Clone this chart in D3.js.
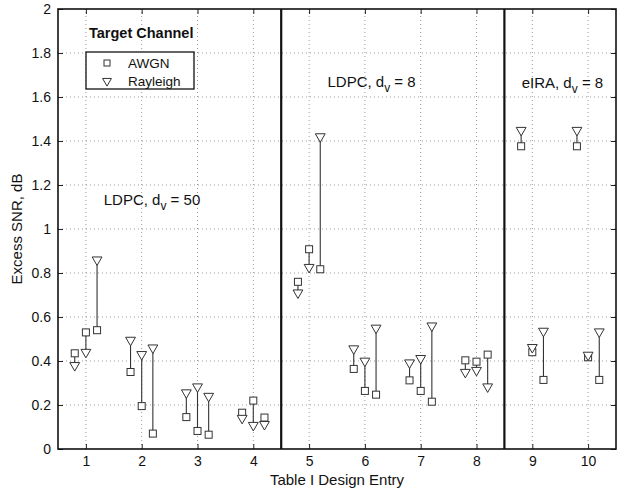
<!DOCTYPE html>
<html>
<head>
<meta charset="utf-8">
<script src="https://cdn.jsdelivr.net/npm/d3@7"></script>
<style>
  body { margin: 0; background: #fff; }
  text { font-family: "Liberation Sans", Arial, sans-serif; }
</style>
</head>
<body>
<div id="chart"></div>
<script>
"use strict";

// design entries on the x axis
var entries = [1, 2, 3, 4, 5, 6, 7, 8, 9, 10];
// x location of every measured pair (three variants per entry)
var pairX = [0.8, 1, 1.2, 1.8, 2, 2.2, 2.8, 3, 3.2, 3.8, 4, 4.2, 4.8, 5, 5.2,
             5.8, 6, 6.2, 6.8, 7, 7.2, 7.8, 8, 8.2, 8.8, 9, 9.2, 9.8, 10, 10.2];
var awgn = [0.435, 0.53, 0.54, 0.35, 0.195, 0.07, 0.145, 0.082, 0.065, 0.165, 0.22, 0.143,
            0.76, 0.908, 0.817, 0.364, 0.264, 0.247, 0.312, 0.264, 0.215, 0.403, 0.397, 0.429,
            1.376, 0.44, 0.314, 1.376, 0.417, 0.314];
var rayleigh = [0.38, 0.44, 0.86, 0.495, 0.43, 0.46, 0.256, 0.283, 0.24, 0.14, 0.108, 0.112,
                0.71, 0.826, 1.42, 0.456, 0.40, 0.55, 0.392, 0.412, 0.56, 0.349, 0.358, 0.283,
                1.449, 0.462, 0.536, 1.449, 0.427, 0.533];
var yTicks = [0, 0.2, 0.4, 0.6, 0.8, 1, 1.2, 1.4, 1.6, 1.8, 2];
var dividers = [4.5, 8.5];
var annotations = [
  {x: 1.32, y: 1.11, name: "LDPC, d", sub: "v", rest: " = 50"},
  {x: 5.33, y: 1.645, name: "LDPC, d", sub: "v", rest: " = 8"},
  {x: 8.81, y: 1.64, name: "eIRA, d", sub: "v", rest: " = 8"}
];

var width = 632, height = 490;
var margin = {top: 9, right: 16, bottom: 41, left: 58};

var x = d3.scaleLinear().domain([0.5, 10.5]).range([margin.left, width - margin.right]);
var y = d3.scaleLinear().domain([0, 2]).range([height - margin.bottom, margin.top]);

var svg = d3.select("#chart").append("svg")
  .attr("width", width)
  .attr("height", height);

// dotted grid
var grid = svg.append("g").attr("stroke", "#999").attr("stroke-dasharray", "1,3").attr("stroke-width", 1);
grid.selectAll("line.gx").data(entries).enter().append("line")
  .attr("x1", d => x(d)).attr("x2", d => x(d))
  .attr("y1", y(0)).attr("y2", y(2));
grid.selectAll("line.gy").data(yTicks.slice(1, -1)).enter().append("line")
  .attr("x1", x(0.5)).attr("x2", x(10.5))
  .attr("y1", d => y(d)).attr("y2", d => y(d));

// axes
var xAxis = d3.axisBottom(x).tickValues(entries).tickSizeInner(-5).tickSizeOuter(0).tickPadding(7);
var yAxis = d3.axisLeft(y).tickValues(yTicks).tickFormat(d3.format("")).tickSizeInner(-5).tickSizeOuter(0).tickPadding(7);

svg.append("g").attr("transform", "translate(0," + y(0) + ")").call(xAxis);
svg.append("g").attr("transform", "translate(" + x(0.5) + ",0)").call(yAxis);
svg.append("g").attr("transform", "translate(0," + y(2) + ")")
  .call(d3.axisTop(x).tickValues(entries).tickSizeInner(-5).tickSizeOuter(0).tickFormat(""));
svg.append("g").attr("transform", "translate(" + x(10.5) + ",0)")
  .call(d3.axisRight(y).tickValues(yTicks).tickSizeInner(-5).tickSizeOuter(0).tickFormat(""));

svg.selectAll(".domain").remove();
svg.selectAll(".tick line").attr("stroke", "#222");
svg.selectAll(".tick text").attr("fill", "#111").style("font-size", "14px");

svg.append("rect")
  .attr("x", x(0.5)).attr("y", y(2))
  .attr("width", x(10.5) - x(0.5)).attr("height", y(0) - y(2))
  .attr("fill", "none").attr("stroke", "#111").attr("stroke-width", 1.6);

svg.selectAll("line.divider").data(dividers).enter().append("line")
  .attr("x1", d => x(d)).attr("x2", d => x(d))
  .attr("y1", y(0)).attr("y2", y(2))
  .attr("stroke", "#111").attr("stroke-width", 2.2);

// axis titles
svg.append("text")
  .attr("x", (x(0.5) + x(10.5)) / 2).attr("y", 485)
  .attr("text-anchor", "middle").style("font-size", "15px").attr("fill", "#111")
  .text("Table I Design Entry");
svg.append("text")
  .attr("transform", "translate(22," + (y(0) + y(2)) / 2 + ") rotate(-90)")
  .attr("text-anchor", "middle").style("font-size", "15px").attr("fill", "#111")
  .text("Excess SNR, dB");

// pairs
var pairs = pairX.map((d, i) => ({x: d, a: awgn[i], r: rayleigh[i]}));
var marks = svg.append("g");
marks.selectAll("line").data(pairs).enter().append("line")
  .attr("x1", d => x(d.x)).attr("x2", d => x(d.x))
  .attr("y1", d => y(d.a)).attr("y2", d => y(d.r))
  .attr("stroke", "#333").attr("stroke-width", 1.1);

var sq = 7;
marks.selectAll("rect").data(pairs).enter().append("rect")
  .attr("x", d => x(d.x) - sq / 2).attr("y", d => y(d.a) - sq / 2)
  .attr("width", sq).attr("height", sq)
  .attr("fill", "#fff").attr("stroke", "#333").attr("stroke-width", 1);

var tri = d3.symbol().type(d3.symbolTriangle).size(42);
marks.selectAll("path").data(pairs).enter().append("path")
  .attr("d", tri)
  .attr("transform", d => "translate(" + x(d.x) + "," + y(d.r) + ") rotate(180)")
  .attr("fill", "#fff").attr("stroke", "#333").attr("stroke-width", 1);

// region labels
annotations.forEach(function(a) {
  var t = svg.append("text")
    .attr("x", x(a.x)).attr("y", y(a.y))
    .style("font-size", "15px").attr("fill", "#111");
  t.append("tspan").text(a.name);
  t.append("tspan").attr("dy", 5).style("font-size", "12px").text(a.sub);
  t.append("tspan").attr("dy", -5).text(a.rest);
});

// legend
var legend = svg.append("g");
legend.append("text")
  .attr("x", 89).attr("y", 38)
  .style("font-size", "14.5px").style("font-weight", "bold").attr("fill", "#111")
  .text("Target Channel");
legend.append("rect")
  .attr("x", 86).attr("y", 52).attr("width", 108).attr("height", 37)
  .attr("fill", "#fff").attr("stroke", "#111").attr("stroke-width", 1.3);
legend.append("rect")
  .attr("x", 107 - 3).attr("y", 63 - 3).attr("width", 6).attr("height", 6)
  .attr("fill", "#fff").attr("stroke", "#333");
legend.append("path")
  .attr("d", d3.symbol().type(d3.symbolTriangle).size(34))
  .attr("transform", "translate(107,81) rotate(180)")
  .attr("fill", "#fff").attr("stroke", "#333");
legend.append("text").attr("x", 128).attr("y", 68)
  .style("font-size", "13.5px").attr("fill", "#111").text("AWGN");
legend.append("text").attr("x", 128).attr("y", 86)
  .style("font-size", "13.5px").attr("fill", "#111").text("Rayleigh");
</script>
</body>
</html>
